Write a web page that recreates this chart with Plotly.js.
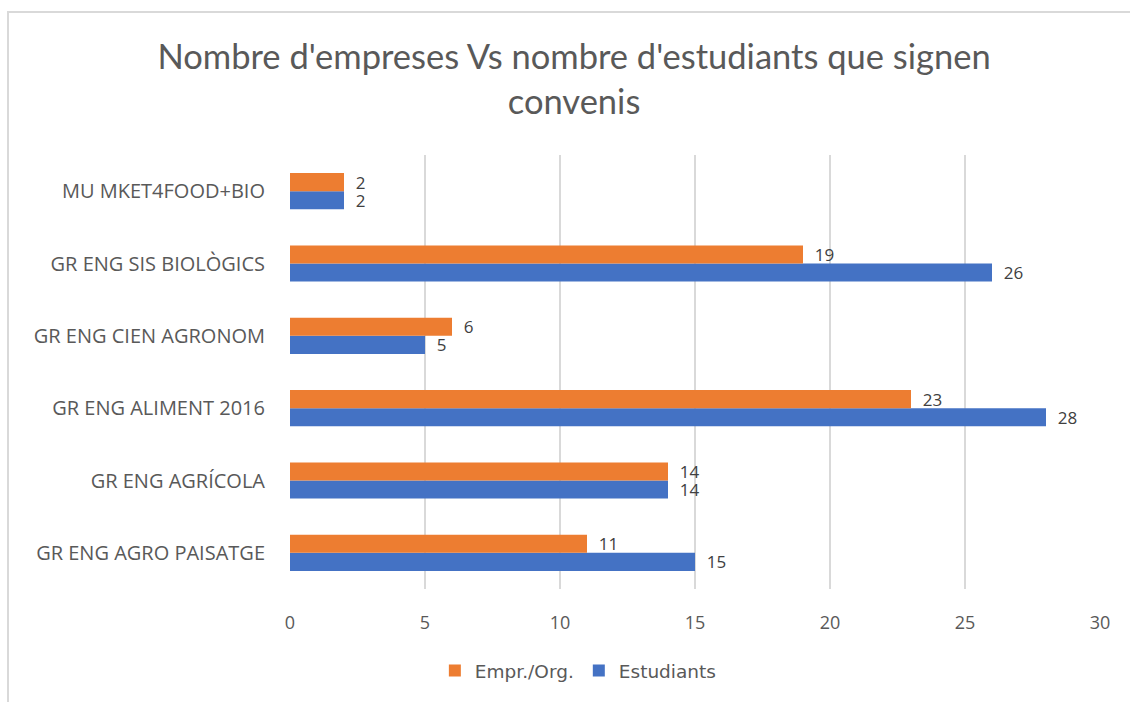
<!DOCTYPE html>
<html>
<head>
<meta charset="utf-8">
<script src="https://cdn.plot.ly/plotly-3.0.1.min.js"></script>
<style>
html,body{margin:0;padding:0;background:#fff;}
#wrap{position:relative;width:1130px;height:702px;overflow:hidden;}
#chart{position:absolute;left:0;top:0;width:1130px;height:702px;}
.ln{position:absolute;background:#d9d9d9;}
</style>
</head>
<body>
<div id="wrap">
<div id="chart"></div>
<div class="ln" style="left:7px;top:11px;width:1123px;height:2px;"></div>
<div class="ln" style="left:7px;top:11px;width:2px;height:691px;"></div>
</div>
<script>
const categories = ["GR ENG AGRO PAISATGE","GR ENG AGRÍCOLA","GR ENG ALIMENT 2016","GR ENG CIEN AGRONOM","GR ENG SIS BIOLÒGICS","MU MKET4FOOD+BIO"];
const empresesValues = [11,14,23,6,19,2];
const estudiantsValues = [15,14,28,5,26,2];
const xTicks = [0,5,10,15,20,25,30];

const labelFont = {family:"Open Sans, Liberation Sans, sans-serif", size:17, color:"#404040"};
const pad = "\u00a0\u00a0";

const traces = [
  {type:"bar", orientation:"h", name:"Estudiants", y:categories, x:estudiantsValues,
   marker:{color:"#4472c4"}, text:estudiantsValues.map(v => pad + v), textposition:"outside",
   textfont:labelFont, constraintext:"none", cliponaxis:false, hoverinfo:"x+y"},
  {type:"bar", orientation:"h", name:"Empr./Org.", y:categories, x:empresesValues,
   marker:{color:"#ed7d31"}, text:empresesValues.map(v => pad + v), textposition:"outside",
   textfont:labelFont, constraintext:"none", cliponaxis:false, hoverinfo:"x+y"}
];

const layout = {
  width:1130, height:702,
  margin:{l:290, r:30, t:155, b:113, autoexpand:false},
  paper_bgcolor:"#fff", plot_bgcolor:"#fff",
  barmode:"group", bargap:0.5, bargroupgap:0,
  title:{text:"Nombre d'empreses Vs nombre d'estudiants que signen<br>convenis",
         x:0.508, xanchor:"center", y:0.902, yanchor:"middle",
         font:{family:"Lato, Open Sans, sans-serif", size:34.5, color:"#595959"}},
  xaxis:{range:[0,30], tickvals:xTicks, ticktext:xTicks.map(String),
         showgrid:true, gridcolor:"#d9d9d9", gridwidth:1.5, zeroline:false,
         showline:false, ticks:"outside", ticklen:17, tickcolor:"rgba(0,0,0,0)",
         tickfont:{family:"Open Sans, Liberation Sans, sans-serif", size:18, color:"#595959"},
         fixedrange:true},
  yaxis:{showgrid:false, zeroline:false, showline:false,
         ticks:"outside", ticklen:20, tickcolor:"rgba(0,0,0,0)",
         tickfont:{family:"Open Sans, Liberation Sans, sans-serif", size:20, color:"#595959"},
         fixedrange:true},
  showlegend:true,
  legend:{orientation:"h", x:0.356, xanchor:"center", y:-0.189, yanchor:"middle",
          traceorder:"reversed", font:{family:"DejaVu Sans, Open Sans, sans-serif", size:18.5, color:"#595959"},
          itemwidth:30}
};

Plotly.newPlot("chart", traces, layout, {displayModeBar:false, staticPlot:true});
</script>
</body>
</html>
